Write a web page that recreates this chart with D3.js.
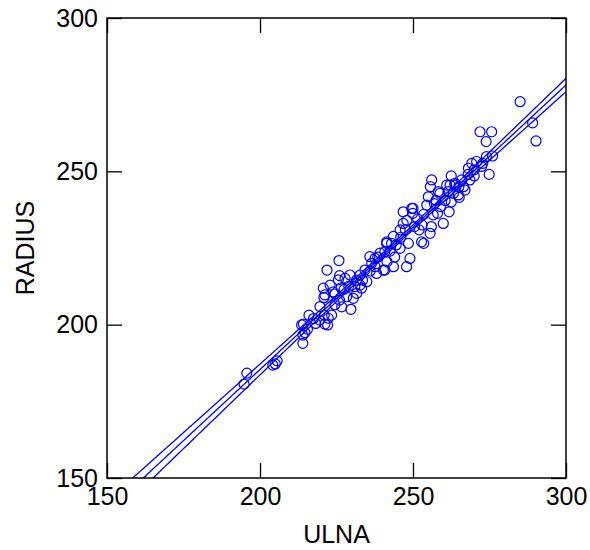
<!DOCTYPE html>
<html>
<head>
<meta charset="utf-8">
<script src="https://cdn.jsdelivr.net/npm/d3@7"></script>
<style>
  body { margin: 0; background: #fff; }
  svg { display: block; font-family: "Liberation Sans", Arial, sans-serif; }
</style>
</head>
<body>
<main></main>
<script>
// ulna / radius pairs
const ulna = [
  194.8, 195.7, 204.2, 205.6, 205.0, 214.0, 214.0, 214.7, 213.6, 216.0,
  218.2, 222.1, 221.0, 221.2, 214.2, 225.8, 221.9, 220.7, 220.9, 222.9,
  223.9, 225.6, 227.8, 229.4, 231.0, 232.7, 233.2, 234.9, 230.5, 229.7,
  226.7, 222.3, 221.2, 237.6, 239.2, 241.4, 240.8, 238.1, 235.9, 219.6,
  228.3, 231.6, 223.4, 226.0, 224.5, 227.5, 217.5, 256.1, 255.7, 258.8,
  255.0, 254.5, 262.1, 263.7, 263.2, 261.8, 259.9, 258.0, 255.6, 252.8,
  252.0, 249.6, 249.9, 246.8, 246.8, 248.0, 245.8, 243.6, 245.8, 243.0,
  241.4, 240.8, 249.0, 247.9, 243.6, 237.6, 240.3, 234.3, 232.7, 271.9,
  275.7, 273.9, 274.9, 274.0, 272.8, 270.8, 269.2, 268.1, 268.6, 265.9,
  263.7, 261.0, 267.0, 264.8, 265.1, 261.5, 258.3, 256.6, 250.0, 253.0,
  285.0, 289.1, 290.2, 272.4, 266.5, 236.5, 238.5, 242.5, 244.5, 246.0,
  247.5, 250.5, 251.5, 253.5, 248.5, 256.0, 259.0, 260.5, 257.0, 265.0,
  262.5, 268.0, 270.0, 276.0, 233.5, 236.0, 229.0, 226.5, 224.5, 219.5,
  215.5, 226.0, 231.5, 244.0, 241.5, 253.5, 257.5, 262.5, 270.0
];
const radius = [
  180.6, 184.2, 186.8, 188.2, 187.2, 193.9, 196.6, 197.4, 199.9, 203.1,
  200.4, 199.9, 203.1, 209.7, 200.2, 220.9, 217.8, 211.9, 208.8, 212.9,
  210.7, 214.6, 215.1, 216.2, 212.4, 212.9, 211.9, 214.0, 208.6, 205.0,
  205.8, 202.1, 200.2, 218.9, 223.3, 226.5, 217.8, 216.7, 222.2, 205.9,
  209.1, 210.2, 203.1, 208.0, 206.5, 211.5, 202.0, 247.2, 245.0, 242.8,
  241.7, 239.0, 245.5, 245.5, 242.8, 236.8, 233.0, 236.3, 229.8, 227.0,
  230.9, 237.9, 236.3, 236.8, 233.0, 234.0, 230.9, 228.8, 224.9, 226.5,
  227.0, 223.8, 221.6, 218.9, 218.9, 221.6, 217.8, 217.8, 216.2, 262.9,
  262.9, 259.7, 249.0, 254.8, 252.6, 253.2, 252.6, 251.0, 247.2, 247.2,
  246.1, 245.5, 243.9, 242.3, 241.5, 243.4, 243.4, 235.8, 237.9, 232.5,
  272.7, 265.8, 259.9, 251.6, 245.0, 220.0, 222.0, 224.0, 226.0, 228.5,
  231.0, 232.0, 234.5, 236.0, 226.5, 232.0, 238.5, 240.5, 239.5, 245.0,
  240.0, 249.0, 250.5, 255.0, 214.5, 217.5, 212.5, 212.0, 210.0, 201.5,
  198.5, 216.0, 214.5, 222.0, 220.5, 226.5, 240.5, 248.5, 248.5
];
const xTicks = [150, 200, 250, 300];
const yTicks = [150, 200, 250, 300];

const data = ulna.map((u, i) => ({ulna: u, radius: radius[i]}));

// least squares line with 95% band for the mean
let fit = pts => {
	const n = pts.length;
	const mx = d3.mean(pts, d => d.ulna), my = d3.mean(pts, d => d.radius);
	const sxx = d3.sum(pts, d => (d.ulna - mx) ** 2);
	const sxy = d3.sum(pts, d => (d.ulna - mx) * (d.radius - my));
	const b = sxy / sxx, a = my - b * mx;
	const sse = d3.sum(pts, d => (d.radius - a - b * d.ulna) ** 2);
	const s = Math.sqrt(sse / (n - 2));
	const t = 1.977;
	return x => {
		const yhat = a + b * x;
		const h = t * s * Math.sqrt(1 / n + (x - mx) ** 2 / sxx);
		return {x, mid: yhat, lo: yhat - h, hi: yhat + h};
	};
};

let drawChart = (w = 590, h = 550) => {
	const margin = ({top: 18, right: 24, bottom: 72, left: 107});
	const blue = "#0000ff";

	let x = d3.scaleLinear()
						.domain([150, 300])
						.range([margin.left, w - margin.right]);
	let y = d3.scaleLinear()
						.domain([150, 300])
						.range([h - margin.bottom, margin.top]);

	let svg = d3.select("main")
			.append("svg")
			.attr("width", w)
			.attr("height", h);

	svg.append("clipPath")
			.attr("id", "plot")
		.append("rect")
			.attr("x", margin.left)
			.attr("y", margin.top)
			.attr("width", w - margin.left - margin.right)
			.attr("height", h - margin.top - margin.bottom);

	// regression line and band
	const f = fit(data);
	const band = d3.range(150, 300.5, 0.5).map(f);
	["lo", "mid", "hi"].forEach(k => {
		svg.append("path")
				.datum(band)
				.attr("clip-path", "url(#plot)")
				.attr("fill", "none")
				.attr("stroke", blue)
				.attr("stroke-width", 1.3)
				.attr("d", d3.line().x(d => x(d.x)).y(d => y(d[k])));
	});

	svg.append("g")
		.selectAll("circle")
		.data(data)
		.join("circle")
			.attr("cx", d => x(d.ulna))
			.attr("cy", d => y(d.radius))
			.attr("r", 5)
			.attr("fill", "none")
			.attr("stroke", blue)
			.attr("stroke-width", 1.2);

	let styleAxis = g => {
		g.select(".domain").remove();
		g.selectAll(".tick line").attr("stroke", "#000").attr("stroke-width", 1.3);
		g.selectAll(".tick text").attr("fill", "#000").attr("font-size", 25);
	};

	svg.append("g")
			.attr("transform", `translate(0,${h - margin.bottom})`)
			.call(d3.axisBottom(x).tickValues(xTicks).tickSize(-15).tickPadding(9))
			.call(styleAxis);
	svg.append("g")
			.attr("transform", `translate(${margin.left},0)`)
			.call(d3.axisLeft(y).tickValues(yTicks).tickSize(-15).tickPadding(9))
			.call(styleAxis);
	svg.append("g")
			.attr("transform", `translate(0,${margin.top})`)
			.call(d3.axisTop(x).tickValues(xTicks).tickSize(-15).tickFormat(""))
			.call(styleAxis);
	svg.append("g")
			.attr("transform", `translate(${w - margin.right},0)`)
			.call(d3.axisRight(y).tickValues(yTicks).tickSize(-15).tickFormat(""))
			.call(styleAxis);

	svg.append("rect")
			.attr("x", margin.left)
			.attr("y", margin.top)
			.attr("width", w - margin.left - margin.right)
			.attr("height", h - margin.top - margin.bottom)
			.attr("fill", "none")
			.attr("stroke", "#000")
			.attr("stroke-width", 1.5);

	svg.append("text")
			.attr("x", (margin.left + w - margin.right) / 2)
			.attr("y", h - 7)
			.attr("text-anchor", "middle")
			.attr("font-size", 25)
			.text("ULNA");

	svg.append("text")
			.attr("transform", `translate(34,${(margin.top + h - margin.bottom) / 2}) rotate(-90)`)
			.attr("text-anchor", "middle")
			.attr("font-size", 25)
			.text("RADIUS");
};

drawChart();
</script>
</body>
</html>
